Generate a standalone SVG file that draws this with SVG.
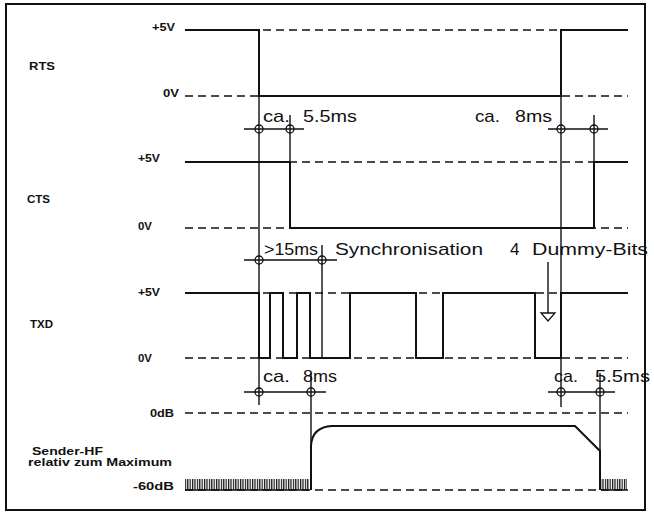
<svg xmlns="http://www.w3.org/2000/svg" width="654" height="517" viewBox="0 0 654 517">
<style>
.frame{fill:none;stroke:#111;stroke-width:2}
.dash{fill:none;stroke:#111;stroke-width:1.6;stroke-dasharray:8 5}
.sig{fill:none;stroke:#111;stroke-width:2}
.ext{fill:none;stroke:#111;stroke-width:1.4}
.dim{fill:none;stroke:#111;stroke-width:1.5}
.mk{fill:none;stroke:#111;stroke-width:1.3}
.lbl{font-family:"Liberation Sans",Arial,sans-serif;font-size:11.5px;font-weight:bold;fill:#111}
.dt{font-family:"Liberation Sans",Arial,sans-serif;font-size:17px;fill:#111}
</style>
<defs>
<pattern id="noise" width="2.4" height="12" patternUnits="userSpaceOnUse">
<rect x="0" y="0" width="1.2" height="12" fill="#111"/>
</pattern>
</defs>
<rect class="frame" x="6" y="4" width="639" height="506"/>

<g id="rts">
<path class="dash" d="M185,30 H628 M185,96 H628"/>
<path class="sig" d="M185,30 H259 V96 H561 V30 H628"/>
<text class="lbl" x="152" y="31" textLength="23" lengthAdjust="spacingAndGlyphs">+5V</text>
<text class="lbl" x="29" y="70" textLength="26" lengthAdjust="spacingAndGlyphs">RTS</text>
<text class="lbl" x="163" y="97" textLength="16" lengthAdjust="spacingAndGlyphs">0V</text>
</g>

<g id="cts">
<path class="dash" d="M185,162 H628 M185,228 H628"/>
<path class="sig" d="M185,162 H290 V228 H594 V162 H628"/>
<text class="lbl" x="138" y="162" textLength="22" lengthAdjust="spacingAndGlyphs">+5V</text>
<text class="lbl" x="27" y="203" textLength="23" lengthAdjust="spacingAndGlyphs">CTS</text>
<text class="lbl" x="138" y="230" textLength="14" lengthAdjust="spacingAndGlyphs">0V</text>
</g>

<g id="txd">
<path class="dash" d="M185,293 H628 M185,358 H628"/>
<path class="sig" d="M185,293 H259 V358 H270 V293 H283 V358 H297 V293 H310 V358 H350 V293 H416 V358 H443 V293 H535 V358 H561 V293 H628"/>
<text class="lbl" x="138" y="296" textLength="22" lengthAdjust="spacingAndGlyphs">+5V</text>
<text class="lbl" x="30" y="328" textLength="23" lengthAdjust="spacingAndGlyphs">TXD</text>
<text class="lbl" x="138" y="362" textLength="14" lengthAdjust="spacingAndGlyphs">0V</text>
</g>

<g id="hf">
<path class="dash" d="M185,413 H628 M185,490 H628"/>
<rect x="185" y="479" width="124" height="11" fill="url(#noise)"/>
<rect x="601" y="479" width="26" height="11" fill="url(#noise)"/>
<path class="dim" d="M185,490 H309 M601,490 H627"/>
<path class="sig" d="M311,490 V446 Q312,427 332,426 H575 L600,451 V490"/>
<text class="lbl" x="150" y="417" textLength="24" lengthAdjust="spacingAndGlyphs">0dB</text>
<text class="lbl" x="32" y="455" textLength="71" lengthAdjust="spacingAndGlyphs">Sender-HF</text>
<text class="lbl" x="28" y="466" textLength="144" lengthAdjust="spacingAndGlyphs">relativ zum Maximum</text>
<text class="lbl" x="133" y="490" textLength="41" lengthAdjust="spacingAndGlyphs">-60dB</text>
</g>

<g id="connectors">
<path class="ext" d="M259,96 V405 M561,96 V407 M290,115 V162 M594,115 V162 M322,245 V358 M311,373 V446 M600,373 V451"/>
<path class="dim" d="M244,129 H304 M548,129 H608 M244,260 H337 M244,392 H326 M548,392 H615"/>
<path class="ext" d="M548,262 V313"/>
<path class="mk" d="M541,313 H555 L548,321 Z" fill="#fff"/>
<g class="mk">
<circle cx="259" cy="129" r="4"/><circle cx="290" cy="129" r="4"/>
<circle cx="561" cy="129" r="4"/><circle cx="594" cy="129" r="4"/>
<circle cx="259" cy="260" r="4"/><circle cx="322" cy="260" r="4"/>
<circle cx="259" cy="392" r="4"/><circle cx="311" cy="392" r="4"/>
<circle cx="561" cy="392" r="4"/><circle cx="600" cy="392" r="4"/>
</g>
</g>

<g id="dimension-texts">
<text class="dt" y="122"><tspan x="263" textLength="27" lengthAdjust="spacingAndGlyphs">ca.</tspan> <tspan x="303" textLength="54" lengthAdjust="spacingAndGlyphs">5.5ms</tspan></text>
<text class="dt" y="122"><tspan x="475" textLength="25" lengthAdjust="spacingAndGlyphs">ca.</tspan> <tspan x="515" textLength="37" lengthAdjust="spacingAndGlyphs">8ms</tspan></text>
<text class="dt" x="264" y="255" textLength="54" lengthAdjust="spacingAndGlyphs">&gt;15ms</text>
<text class="dt" x="335" y="255" textLength="148" lengthAdjust="spacingAndGlyphs">Synchronisation</text>
<text class="dt" x="510" y="255">4</text>
<text class="dt" x="532" y="255" textLength="116" lengthAdjust="spacingAndGlyphs">Dummy-Bits</text>
<text class="dt" y="382"><tspan x="263" textLength="27" lengthAdjust="spacingAndGlyphs">ca.</tspan> <tspan x="303" textLength="34" lengthAdjust="spacingAndGlyphs">8ms</tspan></text>
<text class="dt" y="382"><tspan x="554" textLength="24" lengthAdjust="spacingAndGlyphs">ca.</tspan> <tspan x="595" textLength="55" lengthAdjust="spacingAndGlyphs">5.5ms</tspan></text>
</g>
</svg>
